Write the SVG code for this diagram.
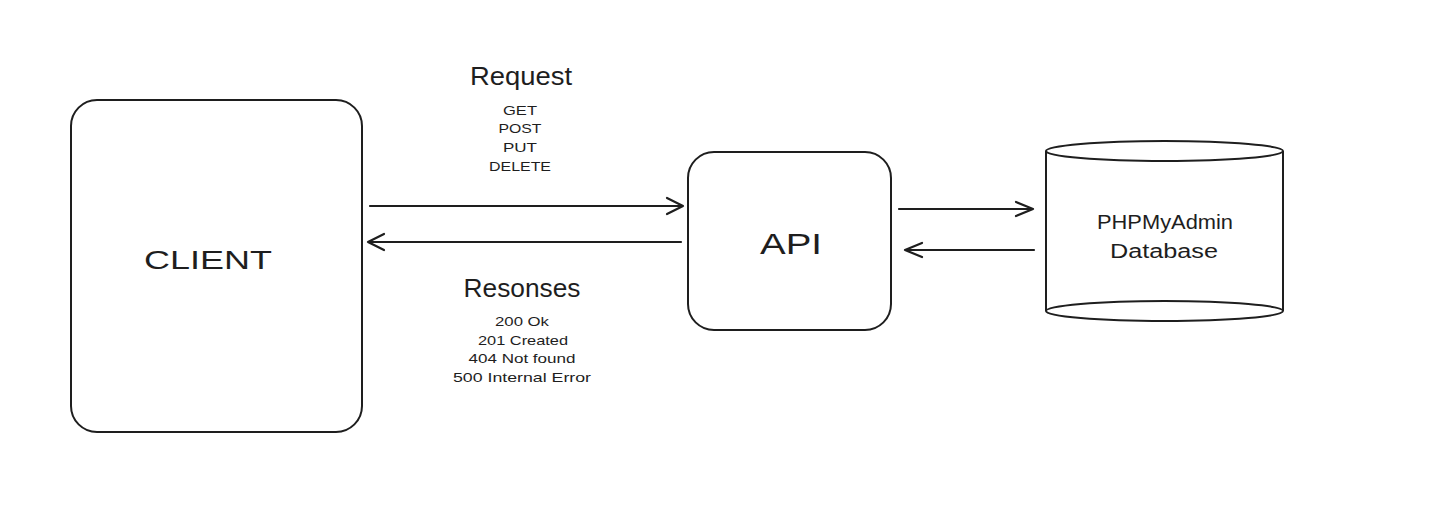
<svg xmlns="http://www.w3.org/2000/svg" width="1433" height="523" viewBox="0 0 1433 523">
<style>
.shape{fill:none;stroke:#1e1e1e;stroke-width:2}
.conn{fill:none;stroke:#1e1e1e;stroke-width:2.2;stroke-linecap:round;stroke-linejoin:round}
text{font-family:"Liberation Sans",Arial,sans-serif;fill:#1e1e1e;text-anchor:middle}
.big{font-size:26px}
.mid{font-size:20px}
.sm{font-size:13px}
</style>
<rect width="1433" height="523" fill="#ffffff"/>
<g id="client">
<rect class="shape" x="71" y="100" width="291" height="332" rx="26"/>
<text class="big" x="208" y="269" textLength="128" lengthAdjust="spacingAndGlyphs">CLIENT</text>
</g>
<g id="api">
<rect class="shape" x="688" y="152" width="203" height="178" rx="26"/>
<text class="big" x="791" y="254" font-size="30" style="font-size:30px" textLength="62" lengthAdjust="spacingAndGlyphs">API</text>
</g>
<g id="database">
<path class="shape" d="M1046,151 V311 M1283,151 V311"/>
<ellipse class="shape" cx="1164.5" cy="151" rx="118.5" ry="10"/>
<path class="shape" d="M1046,311 A118.5,10 0 0 0 1283,311 A118.5,10 0 0 0 1046,311"/>
<text class="mid" x="1165" y="229" textLength="136" lengthAdjust="spacingAndGlyphs">PHPMyAdmin</text>
<text class="mid" x="1164" y="258" textLength="108" lengthAdjust="spacingAndGlyphs">Database</text>
</g>
<g id="connectors">
<path class="conn" d="M370,206 H683 M667,198 L683,206 L667,214"/>
<path class="conn" d="M681,242 H368 M384,234 L368,242 L384,250"/>
<path class="conn" d="M899,209 H1033 M1016,202 L1033,209 L1016,216"/>
<path class="conn" d="M1034,250 H905 M922,243 L905,250 L922,257"/>
</g>
<g id="request-label">
<text class="big" x="521" y="85" textLength="102" lengthAdjust="spacingAndGlyphs">Request</text>
<text class="sm" x="520" y="115" textLength="34" lengthAdjust="spacingAndGlyphs">GET</text>
<text class="sm" x="520" y="133" textLength="43" lengthAdjust="spacingAndGlyphs">POST</text>
<text class="sm" x="520" y="152" textLength="34" lengthAdjust="spacingAndGlyphs">PUT</text>
<text class="sm" x="520" y="171" textLength="62" lengthAdjust="spacingAndGlyphs">DELETE</text>
</g>
<g id="response-label">
<text class="big" x="522" y="297" textLength="117" lengthAdjust="spacingAndGlyphs">Resonses</text>
<text class="sm" x="522" y="326" textLength="54" lengthAdjust="spacingAndGlyphs">200 Ok</text>
<text class="sm" x="523" y="345" textLength="90" lengthAdjust="spacingAndGlyphs">201 Created</text>
<text class="sm" x="522" y="363" textLength="107" lengthAdjust="spacingAndGlyphs">404 Not found</text>
<text class="sm" x="522" y="382" textLength="138" lengthAdjust="spacingAndGlyphs">500 Internal Error</text>
</g>
</svg>
